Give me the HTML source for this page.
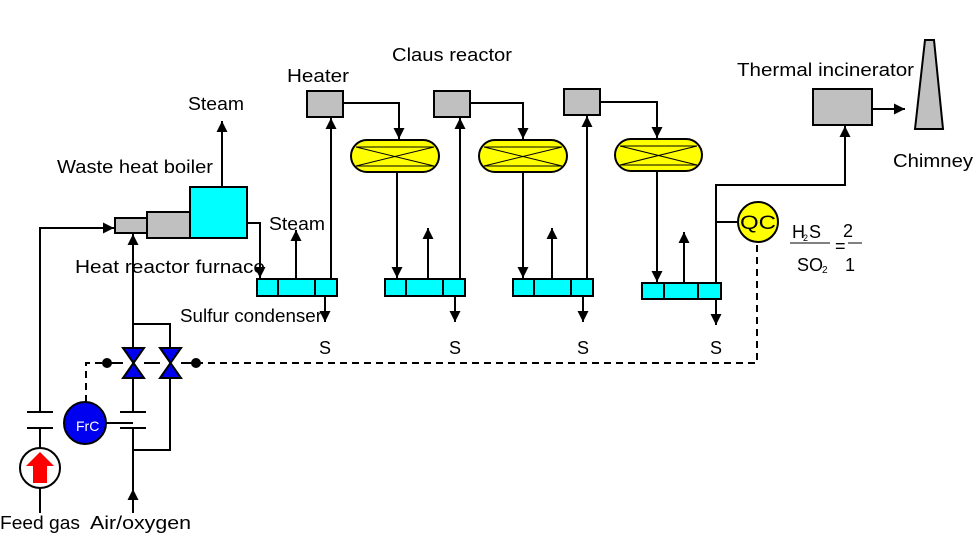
<!DOCTYPE html>
<html><head><meta charset="utf-8"><style>html,body{margin:0;padding:0;background:#fff}svg{display:block}text{font-family:"Liberation Sans",sans-serif;font-size:18px;fill:#000}</style></head><body>
<svg width="975" height="551" viewBox="0 0 975 551" xmlns="http://www.w3.org/2000/svg">
<defs><marker id="a" viewBox="0 0 10 10" refX="10" refY="5" markerWidth="12" markerHeight="11" markerUnits="userSpaceOnUse" orient="auto"><path d="M0,0L10,5L0,10z" fill="#000"/></marker></defs>
<g stroke="#000" stroke-width="2" fill="none">
<path d="M40,513V468M40,448V428M40,412V228H114" marker-end="url(#a)"/>
<path d="M27,412H53M27,428H53M120,412H146M120,428H146"/>
<path d="M133,513V489" marker-end="url(#a)"/>
<path d="M133,489V428M133,412V234" marker-end="url(#a)"/>
<path d="M133,450H170V324H133"/>
<path d="M106,423H133"/>
<path d="M222,187V121" marker-end="url(#a)"/>
<path d="M247,223H260V278" marker-end="url(#a)"/>
<path d="M296,279V230" marker-end="url(#a)"/>
<path d="M331,279V118" marker-end="url(#a)"/>
<path d="M343,103H399V139" marker-end="url(#a)"/>
<path d="M397,172V278" marker-end="url(#a)"/>
<path d="M428,279V228" marker-end="url(#a)"/>
<path d="M460,279V118" marker-end="url(#a)"/>
<path d="M470,103H523V139" marker-end="url(#a)"/>
<path d="M523,172V278" marker-end="url(#a)"/>
<path d="M552,279V228" marker-end="url(#a)"/>
<path d="M587,279V116" marker-end="url(#a)"/>
<path d="M600,102H657V138" marker-end="url(#a)"/>
<path d="M657,171V282" marker-end="url(#a)"/>
<path d="M684,283V232" marker-end="url(#a)"/>
<path d="M716,283V185H845V126" marker-end="url(#a)"/>
<path d="M716,222H738"/>
<path d="M872,109H905" marker-end="url(#a)"/>
<path d="M325,296V322" marker-end="url(#a)"/>
<path d="M455,296V322" marker-end="url(#a)"/>
<path d="M583,296V322" marker-end="url(#a)"/>
<path d="M716,299V325" marker-end="url(#a)"/>
<path d="M86,402V363H107M196,363H757V242" stroke-dasharray="7,5"/>
<path d="M107,363H123M144,363H160"/>
<path d="M181,363H196"/>
<path d="M790,243H830M848,243H862" stroke-width="1"/>
</g>
<g stroke="#000" stroke-width="2">
<circle cx="40" cy="468" r="20" fill="#fff"/>
<path d="M40,452L54,466H47V483H33V466H26z" fill="#f00" stroke="none"/>
<circle cx="85" cy="423" r="21" fill="#0000f0"/>
<circle cx="107" cy="363" r="4" fill="#000"/><circle cx="196" cy="363" r="4" fill="#000"/>
<path d="M123,348H144L123,378H144z" fill="#0000f0"/>
<path d="M160,348H181L160,378H181z" fill="#0000f0"/>
<rect x="115" y="218" width="32" height="15" fill="#c0c0c0"/>
<rect x="147" y="212" width="43" height="26" fill="#c0c0c0"/>
<rect x="190" y="187" width="57" height="51" fill="#00ffff"/>
<rect x="307" y="91" width="36" height="26" fill="#c0c0c0"/>
<rect x="434" y="91" width="36" height="26" fill="#c0c0c0"/>
<rect x="564" y="89" width="36" height="26" fill="#c0c0c0"/>
<rect x="813" y="89" width="59" height="36" fill="#c0c0c0"/>
<path d="M925,40H934L943,129H915z" fill="#c0c0c0"/>
<g fill="#00ffff"><rect x="257" y="279" width="80" height="17"/><rect x="385" y="279" width="80" height="17"/><rect x="513" y="279" width="80" height="17"/><rect x="642" y="283" width="79" height="16"/></g>
<path d="M278,279V296M315,279V296M406,279V296M443,279V296M534,279V296M571,279V296M664,283V299M698,283V299"/>
<g fill="#ffff00"><rect x="351" y="140" width="88" height="32" rx="16"/><rect x="479" y="140" width="88" height="32" rx="16"/><rect x="615" y="139" width="87" height="32" rx="16"/></g>
<g stroke-width="1"><path d="M356,147H434M356,166H434M356,147L434,166M356,166L434,147"/><path d="M484,147H562M484,166H562M484,147L562,166M484,166L562,147"/><path d="M620,146H697M620,165H697M620,146L697,165M620,165L697,146"/></g>
<circle cx="758" cy="222" r="20" fill="#ffff00"/>
</g>
<text x="76" y="431" style="fill:#fff;font-size:14px">FrC</text>
<text x="740" y="229" style="font-size:19px" textLength="36" lengthAdjust="spacingAndGlyphs">QC</text>
<g lengthAdjust="spacingAndGlyphs">
<text x="392" y="61" textLength="120" lengthAdjust="spacingAndGlyphs">Claus reactor</text>
<text x="287" y="82" textLength="62" lengthAdjust="spacingAndGlyphs">Heater</text>
<text x="188" y="110" textLength="56" lengthAdjust="spacingAndGlyphs">Steam</text>
<text x="57" y="173" textLength="156" lengthAdjust="spacingAndGlyphs">Waste heat boiler</text>
<text x="269" y="230" textLength="56" lengthAdjust="spacingAndGlyphs">Steam</text>
<text x="75" y="273" textLength="190" lengthAdjust="spacingAndGlyphs">Heat reactor furnace</text>
<text x="180" y="322" textLength="142" lengthAdjust="spacingAndGlyphs">Sulfur condenser</text>
<text x="737" y="76" textLength="177" lengthAdjust="spacingAndGlyphs">Thermal incinerator</text>
<text x="893" y="167" textLength="80" lengthAdjust="spacingAndGlyphs">Chimney</text>
<text x="0" y="529" textLength="80" lengthAdjust="spacingAndGlyphs">Feed gas</text>
<text x="90" y="529" textLength="101" lengthAdjust="spacingAndGlyphs">Air/oxygen</text>
</g>
<g style="font-size:17px"><text x="319" y="354">S</text><text x="449" y="354">S</text><text x="577" y="354">S</text><text x="710" y="354">S</text></g>
<g style="font-size:14px"><text x="792" y="238">H</text><text x="803" y="241" style="font-size:9px">2</text><text x="809" y="238">S</text><text x="797" y="271">SO</text><text x="822" y="273" style="font-size:10px">2</text><text x="843" y="237">2</text><text x="835" y="252">=</text><text x="845" y="271">1</text></g>
</svg>
</body></html>
